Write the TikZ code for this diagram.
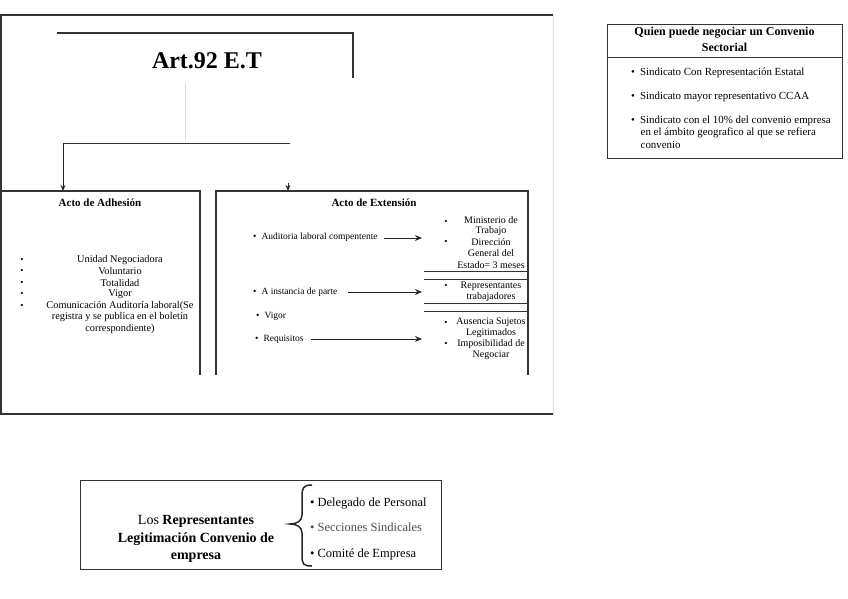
\documentclass[tikz,border=0pt]{standalone}
\usepackage{fontspec}
\setmainfont{Liberation Serif}
\usetikzlibrary{arrows.meta}
\begin{document}
\begin{tikzpicture}[x=1pt,y=-1pt,
  ln/.style={line width=1.3pt, draw=black!80},
  thin/.style={line width=1pt, draw=black!80},
  txt/.style={inner sep=0pt, font=\fontsize{10}{11.5}\selectfont},
  ltxt/.style={inner sep=0pt, font=\fontsize{10.3}{11.5}\selectfont},
  stxt/.style={inner sep=0pt, font=\fontsize{9.5}{11}\selectfont, anchor=west},
  hdr/.style={inner sep=0pt, font=\bfseries\fontsize{11}{13}\selectfont},
  bul/.style={inner sep=0pt, font=\fontsize{9}{9}\selectfont},
  arr/.style={line width=1pt, draw=black!85, -{Stealth[length=7pt,width=6pt]}},
  qtxt/.style={inner sep=0pt, font=\fontsize{10.9}{12}\selectfont, anchor=west},
]
\useasboundingbox (0,0) rectangle (848,599);
% outer frame
\coordinate (ftl) at (1,15); \coordinate (ftr) at (553,15);
\coordinate (fbl) at (1,414); \coordinate (fbr) at (553,414);
\draw[ln, line width=1.6pt] (ftr) -- (ftl) -- (fbl) -- (fbr);
\draw[draw=black!12, line width=0.8pt] (ftr) -- (fbr);
% title
\node[inner sep=0pt, font=\bfseries\fontsize{24}{28}\selectfont] (title) at (207,61) {Art.92 E.T};
\coordinate (t1) at (57,33); \coordinate (t2) at (353,33); \coordinate (t3) at (353,78);
\draw[ln] (t1) -- (t2) -- (t3);
\coordinate (v1) at (185,83); \coordinate (v2) at (185,140);
\draw[draw=black!15, line width=0.8pt] (v1) -- (v2);
\coordinate (h1) at (63,143); \coordinate (h2) at (290,143); \coordinate (h3) at (63,191);
\draw[thin] (h2) -- (h1);
\draw[arr, -{Stealth[length=6pt,width=5pt]}] (h1) -- (h3);
\coordinate (s1) at (288,183); \coordinate (s2) at (288,191);
\draw[draw=black!85, line width=0.8pt, -{Stealth[length=6pt,width=5pt]}] (s1) -- (s2);
% left box
\coordinate (lb1) at (1,191); \coordinate (lb2) at (200,191); \coordinate (lb3) at (200,375);
\draw[ln] (lb1) -- (lb2) -- (lb3);
\node[hdr] (adh) at (100,203) {Acto de Adhesión};
\foreach \y/\t [count=\i] in {260/Unidad Negociadora, 271.5/Voluntario, 283/Totalidad, 294.5/Vigor, 306/{Comunicación Auditoría laboral(Se}}{
  \node[bul] (lbul\i) at (22,\y) {\textbullet};
  \node[ltxt] (litem\i) at (120,\y) {\t};
}
\node[ltxt] (litem6) at (120,317.5) {registra y se publica en el boletín};
\node[ltxt] (litem7) at (120,329) {correspondiente)};
% right box
\coordinate (rb1) at (216,375); \coordinate (rb2) at (216,191); \coordinate (rb3) at (528,191); \coordinate (rb4) at (528,375);
\draw[ln] (rb1) -- (rb2) -- (rb3) -- (rb4);
\node[hdr] (ext) at (374,203) {Acto de Extensión};
\node[stxt] (aud) at (253,237) {\textbullet\hspace{5pt}Auditoria laboral compentente};
\node[stxt] (inst) at (253,292) {\textbullet\hspace{5pt}A instancia de parte};
\node[stxt] (vig) at (256,316) {\textbullet\hspace{5pt}Vigor};
\node[stxt] (req) at (255,339) {\textbullet\hspace{5pt}Requisitos};
\coordinate (a1s) at (384,238); \coordinate (a1e) at (422,238);
\coordinate (a2s) at (348,292); \coordinate (a2e) at (422,292);
\coordinate (a3s) at (311,339); \coordinate (a3e) at (422,339);
\draw[arr] (a1s) -- (a1e);
\draw[arr] (a2s) -- (a2e);
\draw[arr] (a3s) -- (a3e);
% right column
\foreach \y [count=\i] in {222,242,286,323,344}{
  \node[bul] (rbul\i) at (446,\y) {\textbullet};
}
\foreach \y/\t [count=\i] in {220/Ministerio de, 231.5/Trabajo, 242/Dirección, 253.5/General del, 265/Estado= 3 meses, 286/Representantes, 297/trabajadores, 322/Ausencia Sujetos, 333/Legitimados, 344/Imposibilidad de, 355.5/Negociar}{
  \node[txt] (ritem\i) at (491,\y) {\t};
}
\foreach \y [count=\i] in {271,279,303,311}{
  \coordinate (ls\i) at (424,\y); \coordinate (le\i) at (528,\y);
  \draw[thin] (ls\i) -- (le\i);
}
% Quien box
\node[draw=black!80, line width=1pt, minimum width=235pt, minimum height=133pt, inner sep=0pt] (qbox) at (724.5,91.5) {};
\coordinate (qs1) at (607,58); \coordinate (qs2) at (842,58);
\draw[draw=black!80, line width=1pt] (qs1) -- (qs2);
\node[inner sep=0pt, font=\bfseries\fontsize{12}{14}\selectfont] (qt1) at (724.5,33) {Quien puede negociar un Convenio};
\node[inner sep=0pt, font=\bfseries\fontsize{12}{14}\selectfont] (qt2) at (724.5,47) {Sectorial};
\node[qtxt] (q1) at (631,73) {\textbullet\hspace{5pt}Sindicato Con Representación Estatal};
\node[qtxt] (q2) at (631,97) {\textbullet\hspace{5pt}Sindicato mayor representativo CCAA};
\node[qtxt] (q3) at (631,121) {\textbullet\hspace{5pt}Sindicato con el 10\% del convenio empresa};
\node[qtxt] (q4) at (640.5,133) {en el ámbito geografico al que se refiera};
\node[qtxt] (q5) at (640.5,145) {convenio};
% bottom box
\node[draw=black!80, line width=1pt, minimum width=361pt, minimum height=89pt, inner sep=0pt] (bbox) at (260.5,525) {};
\node[inner sep=0pt, align=center, font=\fontsize{14}{17.5}\selectfont] (leg) at (196,539) {Los \textbf{Representantes}\\\textbf{Legitimación Convenio de}\\\textbf{empresa}};
\draw[line width=1.5pt, draw=black!85] (312,485) .. controls (303,485) and (302,488) .. (302,497) -- (302,515) .. controls (302,521) and (297,524) .. (290,524) .. controls (297,524) and (302,527) .. (302,533) -- (302,555) .. controls (302,564) and (303,566) .. (312,566);
\node[inner sep=0pt, anchor=west, font=\fontsize{12.5}{14}\selectfont] (d1) at (310,504) {\textbullet\hspace{3pt}Delegado de Personal};
\node[inner sep=0pt, anchor=west, font=\fontsize{12.5}{14}\selectfont, text=black!70] (d2) at (310,527) {\textbullet\hspace{3pt}Secciones Sindicales};
\node[inner sep=0pt, anchor=west, font=\fontsize{12.5}{14}\selectfont] (d3) at (310,554) {\textbullet\hspace{3pt}Comité de Empresa};
\end{tikzpicture}
\end{document}
